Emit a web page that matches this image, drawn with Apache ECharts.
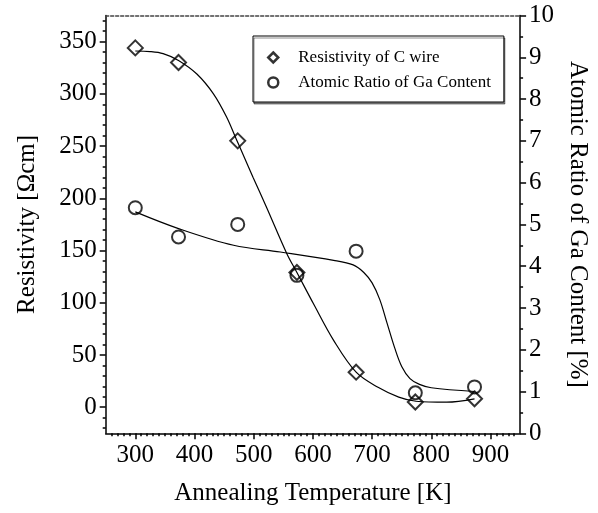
<!DOCTYPE html>
<html>
<head>
<meta charset="utf-8">
<script src="https://cdn.jsdelivr.net/npm/echarts@6/dist/echarts.min.js"></script>
<style>
  html, body { margin: 0; padding: 0; background: #fff; }
  #chart { width: 598px; height: 513px; }
</style>
</head>
<body>
<div id="chart"></div>
<script>
// measured points
const temps = [300, 373, 473, 573, 673, 773, 873]
const resistivity = [344, 330, 255, 129, 33.5, 5, 8]
const gaRatio = [5.4, 4.7, 5.0, 3.78, 4.36, 0.97, 1.11]

// fitted curves
const resFitX = [300, 325, 347, 373, 404, 432, 454, 471, 482, 499, 522, 556, 573, 601, 635, 673, 710, 745, 774, 826, 873]
const resFitY = [341, 340.5, 338.5, 332, 319, 300, 278, 256, 242, 220, 191, 147, 129, 99, 64, 33.5, 19, 9.6, 5.7, 4.8, 8]
const gaFitX = [300, 373, 466, 545, 635, 668, 686, 700, 713, 725, 738, 750, 764, 780, 800, 873]
const gaFitY = [5.3, 4.9, 4.5, 4.34, 4.14, 4.03, 3.85, 3.6, 3.2, 2.65, 2.05, 1.6, 1.31, 1.17, 1.09, 1.0]

// tick labels
const xTicks = [300, 400, 500, 600, 700, 800, 900]
const yLeftTicks = [0, 50, 100, 150, 200, 250, 300, 350]

const FONT = 'Liberation Serif'

function minorTicks(min, max, step, majors) {
  const out = []
  for (let v = min + step; v < max; v += step) {
    if (majors.indexOf(v) < 0) out.push(v)
  }
  return out
}
const xMinor = minorTicks(250, 950, 10, xTicks)
const yMinor = minorTicks(-30, 380, 10, yLeftTicks).filter(v => v > -25 && v < 375)

const pair = (xs, ys) => xs.map((x, i) => [x, ys[i]])

const chart = echarts.init(document.getElementById('chart'))

const lineBlack = { color: '#000', width: 1.5 }

const option = {
  animation: false,
  backgroundColor: '#fff',
  grid: { left: 105.7, right: 76.3, top: 15.5, bottom: 79.7 },
  legend: {
    data: ['Resistivity of C wire', 'Atomic Ratio of Ga Content'],
    orient: 'vertical',
    left: 253,
    top: 36,
    padding: [13, 13, 11, 14],
    itemWidth: 10,
    itemHeight: 10,
    itemGap: 8,
    itemStyle: { borderWidth: 2.5 },
    backgroundColor: '#fff',
    borderColor: '#000',
    borderWidth: 1,
    shadowColor: 'rgba(0,0,0,0.45)',
    shadowOffsetX: 1,
    shadowOffsetY: 2,
    shadowBlur: 0,
    textStyle: { fontFamily: FONT, fontSize: 17, color: '#000', padding: [0, 0, 0, 15] }
  },
  xAxis: [
    {
      type: 'value', min: 250, max: 950, position: 'bottom',
      name: 'Annealing Temperature [K]', nameLocation: 'middle', nameGap: 48,
      nameTextStyle: { fontFamily: FONT, fontSize: 25, color: '#000' },
      axisLine: { onZero: false, lineStyle: lineBlack },
      axisTick: { customValues: xTicks, length: 6, lineStyle: lineBlack },
      axisLabel: { customValues: xTicks, fontFamily: FONT, fontSize: 25, color: '#000', margin: 10 },
      splitLine: { show: false }
    },
    {
      type: 'value', min: 250, max: 950, position: 'bottom',
      axisLine: { show: false, onZero: false },
      axisTick: { customValues: xMinor, length: 3, lineStyle: lineBlack },
      axisLabel: { show: false },
      splitLine: { show: false }
    },
    {
      type: 'value', min: 250, max: 950, position: 'top',
      axisLine: { onZero: false, lineStyle: { color: '#444', width: 1.5, type: [3, 2] } },
      axisTick: { show: false },
      axisLabel: { show: false },
      splitLine: { show: false }
    }
  ],
  yAxis: [
    {
      type: 'value', min: -25, max: 375, position: 'left',
      name: 'Resistivity [Ωcm]', nameLocation: 'middle', nameGap: 66, nameRotate: 90,
      nameTextStyle: { fontFamily: FONT, fontSize: 25, color: '#000' },
      axisLine: { show: true, onZero: false, lineStyle: lineBlack },
      axisTick: { show: true, customValues: yLeftTicks, length: 6, lineStyle: lineBlack },
      axisLabel: { customValues: yLeftTicks, fontFamily: FONT, fontSize: 25, color: '#000', margin: 9 },
      splitLine: { show: false }
    },
    {
      type: 'value', min: -25, max: 375, position: 'left',
      axisLine: { show: false, onZero: false },
      axisTick: { show: true, customValues: yMinor, length: 3, lineStyle: lineBlack },
      axisLabel: { show: false },
      splitLine: { show: false }
    },
    {
      type: 'value', min: 0, max: 10, interval: 1, position: 'right',
      name: 'Atomic Ratio of Ga Content [%]', nameLocation: 'middle', nameGap: 44, nameRotate: -90,
      nameTextStyle: { fontFamily: FONT, fontSize: 25, color: '#000' },
      axisLine: { show: true, onZero: false, lineStyle: lineBlack },
      axisTick: { show: true, length: 6, lineStyle: lineBlack },
      minorTick: { show: true, splitNumber: 2, length: 3, lineStyle: lineBlack },
      axisLabel: { fontFamily: FONT, fontSize: 25, color: '#000', margin: 9 },
      splitLine: { show: false }
    }
  ],
  series: [
    {
      name: 'resFit', type: 'line', xAxisIndex: 0, yAxisIndex: 0,
      data: pair(resFitX, resFitY), smooth: 0.35,
      showSymbol: false, lineStyle: { color: '#000', width: 1.2 }, z: 2
    },
    {
      name: 'gaFit', type: 'line', xAxisIndex: 0, yAxisIndex: 2,
      data: pair(gaFitX, gaFitY), smooth: 0.35,
      showSymbol: false, lineStyle: { color: '#000', width: 1.2 }, z: 2
    },
    {
      name: 'Resistivity of C wire', type: 'scatter', xAxisIndex: 0, yAxisIndex: 0,
      data: pair(temps, resistivity), symbol: 'diamond', symbolSize: 15,
      itemStyle: { color: 'rgba(0,0,0,0)', borderColor: '#000', borderWidth: 2 }, z: 3
    },
    {
      name: 'Atomic Ratio of Ga Content', type: 'scatter', xAxisIndex: 0, yAxisIndex: 2,
      data: pair(temps, gaRatio), symbol: 'circle', symbolSize: 13,
      itemStyle: { color: 'rgba(0,0,0,0)', borderColor: '#000', borderWidth: 2 }, z: 3
    }
  ]
}

chart.setOption(option)
</script>
</body>
</html>
